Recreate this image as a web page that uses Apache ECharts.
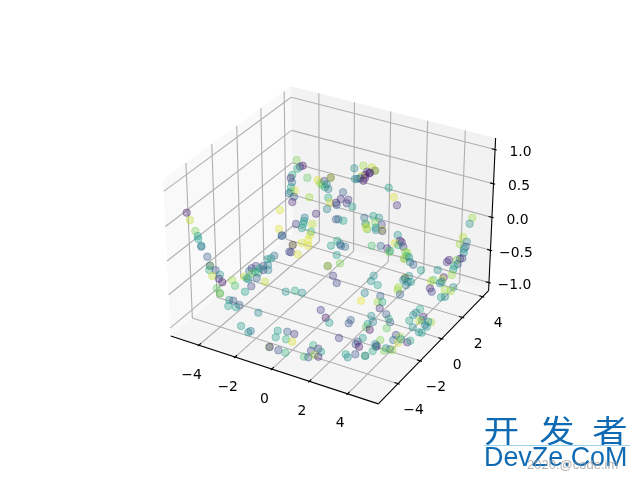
<!DOCTYPE html>
<html><head><meta charset="utf-8"><style>html,body{margin:0;padding:0;background:#fff}#c{width:640px;height:480px}</style>
<script src="https://cdn.jsdelivr.net/npm/echarts@6/dist/echarts.min.js"></script></head>
<body><div id="c"></div>
<script>
// ---- data: points (x, y on the flat picture plane, colour value 0..1)
const pointX=[296.7,302.7,300,297.3,292.3,290.7,292,307.3,317.7,320,324.3,330.7,330.7,322.3,326.7,325,328.3,291,290.7,295,289,294,292.3,309.3,328.3,330,336,336.7,340.7,343,348.3,346.7,352.3,327,316,280,336,338.3,343.3,354.3,363.3,371.7,375,375,367.3,370,365,361.7,360,355,357.3,363.3,365,369.3,388.7,393.7,397,364.3,366,365.5,367.3,366,373.3,379,375,381.7,375.7,376,382.3,382.3,304.7,304,303.3,296,302,312.3,311,310,308.3,301.7,308.3,292.7,292.7,281.7,279,331,337.3,340,341,345,371.7,380.7,
472.3,469.7,397.7,463,459.7,466.7,465.7,464,463.7,400,395,401.7,398.3,403.3,387.3,389.3,390,405,407.3,406.7,404.3,404.3,409,410,413.3,421,437.7,449,447,460,462.3,456.7,457.7,454.3,453.3,451.7,443.7,442.3,441.7,440,433.3,431,430,431.7,453.3,450.7,441,445,409,405,405,411,407.7,403.3,406,398.3,397.7,400,
186.7,190,195.3,197.7,198.3,201.3,201.3,207.3,210,210,209.3,215.7,220,212.3,219,222.3,216.7,220,220,229.3,233.3,228.3,236,239.3,232.3,235,245,251.3,265,282,244.3,246.7,249.3,251.7,256,252.3,255,258.3,256.7,248.3,263.3,263.3,260,268,268.3,267.3,271,274.3,285.7,289.3,
291,297.7,336.7,327.7,327.7,340,333,336.7,373.7,371,377.7,364.7,295,302,361,380.3,377.7,382.3,379.7,320.7,325.7,329.3,371.3,350.7,348.7,373,367.7,366,369.7,388.7,390,386.7,287.3,294.3,286,292.3,339,362.7,357.7,355.7,359,380.3,376.7,375.7,372.7,386,390,392.3,384,355.3,345.7,347.7,365.3,365,313.3,311,318.3,321,304,308.3,314.3,318.3,
258.3,241,248.3,250.7,277.7,275.7,269,269.7,278.3,285.3,396,393.3,400,398.3,401,407.3,410.3,375.3,420,416,413.3,423.3,421.7,419.3,409.3,431,428.3,426.7,425,412.7,419,421.7,386.3,444.7];
const pointY=[160,165.7,166.7,168.7,175,178,182.3,177.7,180,183.3,181,177.7,177.7,185,184.3,187.3,189,187.3,191.7,190.7,193.3,196.7,202,197.3,197.7,202.7,202.7,205,199,192.3,199.7,203.3,206.7,209,213.7,210,219.3,219.3,220.7,168.3,165.7,167.3,170.7,170.7,171.7,172.7,175,176,178.3,179,179,180.7,178,173.3,187.7,197.3,205.3,217.7,224,224,229.3,227.7,216,217.7,222.3,224.7,227.7,230,230,231,217.7,221,224,224,228,224,231.7,235,240,243,245.7,245,245,236,229,245.7,240.7,244.3,245.7,246.7,245.7,246,
217.7,223.7,235,237,244,241.7,246.7,249,252.7,240.7,243.3,242.3,245,246.7,248.3,252.3,250.7,251.7,252.7,256,258.7,258.7,257.3,262,264.7,270.3,270,260,262,258.7,258.3,260,264,266,269.3,275,277.3,279.3,281.7,283.3,280,281,288.3,291.7,287.3,291,297.3,296.7,276,277.7,278.3,282,281.7,280,285.3,287.3,290,294.3,
212.7,220,231,236,239,246.7,245.7,256.7,265.7,265.7,270,270.3,274.7,276,278.7,282.3,288.3,293.3,293.3,300,300.7,306,307.3,305,280.3,285.7,291.7,286.3,281.7,235.3,276.7,278.3,271,268.3,266,273.3,271.7,272.7,278,279.3,266,270,268.3,265,270,259.3,258.3,255.7,291.7,251.7,
252.3,254.3,255,266,266,263.3,275.7,283,275.7,281,285,293,290.7,292.7,300.7,296,302,302,308.3,310,317.7,322.7,316,320,323.3,322,324,327.3,329.7,318.7,322.3,328.3,331.7,334,339.3,341.7,338,338,341.7,344.3,346.7,340,346,346.7,351,348.3,349.3,350,350.7,354.3,354.3,357.3,355.7,356,345.3,350.7,348.7,351.7,356.7,357.3,355,356.7,
312.7,326,332.3,331,330.7,337.3,347,347,350.3,352.7,335,340,336.7,342.7,339.3,342.3,340.7,344,309,312.7,315,316.7,320,320.7,320.7,322.3,321.7,326.7,325,327.3,332.3,332.7,314.3,290];
const pointC=[.8,.05,.2,.6,.6,.1,.35,.75,.95,.85,.2,.15,.9,.75,.45,.6,.4,.55,.65,.95,.35,.3,.1,.85,.6,.95,.1,.3,.15,.3,.15,.2,.55,.4,.12,.95,.25,.35,.55,.5,.85,.9,.2,.9,.15,.1,.05,.9,.3,.5,.4,.05,.1,.1,.55,.95,.15,.35,.9,.5,.75,.95,.55,.5,.8,.2,.55,.45,.95,.2,.4,.5,.55,.2,.55,.9,.65,.95,.95,.95,.95,.95,.15,.3,.95,.55,.6,.4,.3,.35,.7,.35,
.85,.5,.5,.9,.85,.45,.3,.5,.5,.1,.95,.15,.6,.2,.15,.8,.6,.8,.85,.65,.6,.95,.5,.45,.3,.55,.5,.1,.15,.15,.2,.8,.3,.6,.55,.85,.1,.9,.45,.5,.7,.9,.1,.2,.5,.85,.55,.45,.5,.9,.2,.55,.45,.5,.4,.85,.85,.3,
.08,.9,.8,.55,.55,.3,.5,.25,.85,.3,.6,.25,.5,.9,.15,.05,.75,.95,.6,.5,.25,.55,.55,.3,.85,.7,.55,.2,.9,.3,.9,.6,.35,.2,.2,.8,.6,.65,.3,.5,.2,.15,.55,.45,.45,.5,.55,.35,.5,.2,
.2,.95,.55,.3,.9,.8,.2,.2,.5,.5,.55,.45,.6,.5,.97,.3,.85,.6,.15,.2,.05,.55,.5,.3,.25,.4,.55,.75,.05,.65,.3,.75,.3,.15,.65,.95,.2,.55,.25,.25,.05,.8,.05,.3,.6,.5,.35,.85,.8,.25,.55,.5,.3,.65,.65,.2,.15,.55,.7,.3,.85,.1,
.45,.55,.5,.4,.55,.55,.8,.1,.25,.65,.2,.35,.85,.95,.5,.1,.6,.5,.6,.4,.5,.1,.5,.9,.55,.85,.5,.5,.4,.5,.5,.55,.25,.85];
const xTicks=[-4,-2,0,2,4], yTicks=[-4,-2,0,2,4], zTicks=[-1,-.5,0,.5,1];
const xTickLabels=['−4','−2','0','2','4'], yTickLabels=['−4','−2','0','2','4'], zTickLabels=['−1.0','−0.5','0.0','0.5','1.0'];
const xLim=[-5.36,5.36], yLim=[-5.5,4.4], zLim=[-1.08,1.12];
const viridis=[[68,1,84],[72,40,120],[62,73,137],[49,104,142],[38,130,142],[31,158,137],[53,183,121],[110,206,88],[181,222,43],[253,231,37]];

// ---- mplot3d-style view (elev 30, azim -60)
const rad=Math.PI/180, el=30*rad, az=-60*rad, dist=10;
const box=[1.14286,1.14286,.85714];
const R=box.map(b=>b/2);
const dir=[Math.cos(az)*Math.cos(el),Math.sin(az)*Math.cos(el),Math.sin(el)];
const E=R.map((r,i)=>r+dist*dir[i]);
const cross=(a,b)=>[a[1]*b[2]-a[2]*b[1],a[2]*b[0]-a[0]*b[2],a[0]*b[1]-a[1]*b[0]];
const norm=a=>{const n=Math.hypot(...a);return a.map(v=>v/n)};
const dot=(a,b)=>a[0]*b[0]+a[1]*b[1]+a[2]*b[2];
const u=norm(cross([0,0,1],dir)), v=cross(dir,u);
function project(x,y,z){
  const P=[(x-xLim[0])/(xLim[1]-xLim[0])*box[0],(y-yLim[0])/(yLim[1]-yLim[0])*box[1],(z-zLim[0])/(zLim[1]-zLim[0])*box[2]];
  const d=P.map((p,i)=>p-E[i]); const w=-dot(d,dir);
  const X=dot(d,u)/w, Y=dot(d,v)/w;
  return [142.8+(X+.095)/.185*369.6, 480-(52.8+(Y+.095)/.185*369.6)];
}
const dx=(xLim[1]-xLim[0])/12, dy=(yLim[1]-yLim[0])/12, dz=(zLim[1]-zLim[0])/12;
const x0=xLim[0]-dx/4,x1=xLim[1]+dx/4,y0=yLim[0]-dy/4,y1=yLim[1]+dy/4,z0=zLim[0]-dz/4,z1=zLim[1]+dz/4;
const poly=(pts,color)=>({pts:pts.map(p=>project(...p)),color});
const panes=[
 poly([[x0,y0,z0],[x0,y1,z0],[x0,y1,z1],[x0,y0,z1]],'#f9f9f9'),
 poly([[x0,y1,z0],[x1,y1,z0],[x1,y1,z1],[x0,y1,z1]],'#f2f2f2'),
 poly([[x0,y0,z0],[x1,y0,z0],[x1,y1,z0],[x0,y1,z0]],'#f5f5f5')];
const segs=[];
const seg=(a,b,color,w)=>segs.push({a:project(...a),b:project(...b),color,w});
const GRID='#b0b0b0',GW=1.1;
xTicks.forEach(t=>{seg([t,y0,z0],[t,y1,z0],GRID,GW);seg([t,y1,z0],[t,y1,z1],GRID,GW)});
yTicks.forEach(t=>{seg([x1,t,z0],[x0,t,z0],GRID,GW);seg([x0,t,z0],[x0,t,z1],GRID,GW)});
zTicks.forEach(t=>{seg([x0,y0,t],[x0,y1,t],GRID,GW);seg([x0,y1,t],[x1,y1,t],GRID,GW)});
seg([x0,y0,z0],[x1,y0,z0],'#000',1.1); seg([x1,y0,z0],[x1,y1,z0],'#000',1.1); seg([x1,y1,z0],[x1,y1,z1],'#000',1.1);
const OUT=.1,IN=.2;
xTicks.forEach(t=>seg([t,y0-OUT*dy,z0],[t,y0+IN*dy,z0],'#000',1.1));
yTicks.forEach(t=>seg([x1+OUT*dx,t,z0],[x1-IN*dx,t,z0],'#000',1.1));
zTicks.forEach(t=>seg([x1+OUT*dx,y1,t],[x1-IN*dx,y1,t],'#000',1.1));
const off=(p,a,b)=>[p[0]+a,p[1]+b];
const labelPos=[
 ...xTicks.map((t,i)=>({p:off(project(t,y0,z0),-7.3,30),s:xTickLabels[i]})),
 ...yTicks.map((t,i)=>({p:off(project(x1,t,z0),15.5,26.5),s:yTickLabels[i]})),
 ...zTicks.map((t,i)=>({p:off(project(x1,y1,t),25.5,3),s:zTickLabels[i]}))];

function vir(c){const f=Math.min(.9999,c)*(viridis.length-1),i=Math.floor(f),t=f-i;
  return viridis[i].map((a,k)=>Math.round(a+(viridis[i+1][k]-a)*t));}
const pts=pointX.map((x,i)=>{const col=vir(pointC[i]);
  return {value:[x,pointY[i]],itemStyle:{opacity:1,color:`rgba(${col},.34)`,borderColor:`rgba(${col},.38)`,borderWidth:1}}});

const chart=echarts.init(document.getElementById('c'),null,{renderer:'canvas'});
const blue='#0f6ab4';
const logoChars=['开','发','者'], logoCx=[501.5,557,610];
chart.setOption({
 animation:false,backgroundColor:'#fff',
 grid:{left:0,right:0,top:0,bottom:0},
 xAxis:{type:'value',min:0,max:640,show:false},
 yAxis:{type:'value',min:0,max:480,inverse:true,show:false},
 series:[
  {type:'custom',silent:true,z:1,coordinateSystem:'cartesian2d',data:panes.map((p,i)=>[i]),clip:false,
   renderItem:(pm,api)=>{const p=panes[api.value(0)];return {type:'polygon',shape:{points:p.pts.map(q=>api.coord(q))},style:{fill:p.color}}}},
  {type:'custom',silent:true,z:2,coordinateSystem:'cartesian2d',data:segs.map((s,i)=>[i]),clip:false,
   renderItem:(pm,api)=>{const s=segs[api.value(0)],a=api.coord(s.a),b=api.coord(s.b);
     return {type:'line',shape:{x1:a[0],y1:a[1],x2:b[0],y2:b[1]},style:{stroke:s.color,lineWidth:s.w}}}},
  {type:'scatter',silent:true,z:3,symbolSize:7.5,data:pts,clip:false},
  {type:'scatter',silent:true,z:4,symbolSize:0,clip:false,itemStyle:{opacity:1},
   data:labelPos.map(l=>({value:l.p,label:{show:true,position:'inside',formatter:l.s,fontFamily:'DejaVu Sans',fontSize:13.9,color:'#000'}}))}
 ],
 graphic:[
  ...logoChars.map((ch,i)=>({type:'text',z:10,x:logoCx[i],y:430,scaleX:1.14,style:{text:ch,font:'31px "Noto Sans CJK SC"',fill:blue,align:'center',verticalAlign:'middle'}})),
  {type:'rect',z:10,shape:{x:484,y:445,width:146,height:1},style:{fill:'#9fd0ea'}},
  {type:'text',z:10,x:484,y:458,scaleX:.96,style:{text:'DevZe.CoM',font:'28px "Liberation Sans"',fill:blue,verticalAlign:'middle'}},
  {type:'text',z:11,x:527,y:465,style:{text:'2020.@code.im',font:'13px "Liberation Sans"',fill:'rgba(150,150,150,.75)',verticalAlign:'middle'}}
 ]
});
</script></body></html>
